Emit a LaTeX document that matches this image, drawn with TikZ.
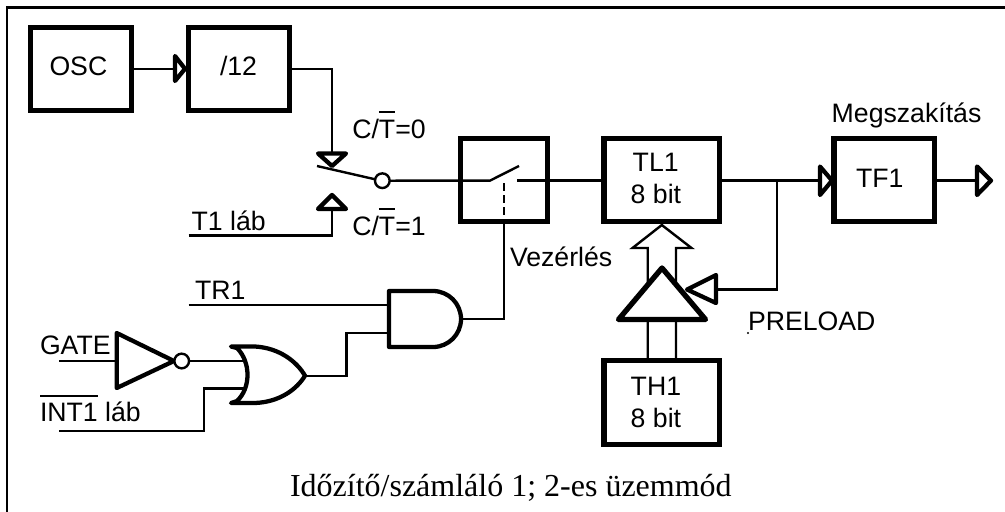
\documentclass[tikz,border=0pt]{standalone}
\usepackage{fontspec}
\setmainfont{Liberation Sans}
\newfontfamily\capfont{Liberation Serif}
\newcommand{\ovbar}[2]{\setbox0\hbox{#2}\rlap{\raisebox{#1}{\rule{\wd0}{1.5pt}}}\box0\relax}
\tikzset{
  wire/.style={line width=1.8pt},
  frameline/.style={line width=2pt},
  blockbox/.style={draw,line width=3.8pt,rectangle,inner sep=0pt,outer sep=0pt,fill=none},
  headtri/.style={draw,line width=3.2pt,line join=round,fill=white},
  gatepath/.style={draw,line width=3.2pt,line join=round,line cap=round},
  label/.style={inner sep=0pt,outer sep=0pt,anchor=base west,font=\fontsize{20}{24}\selectfont},
  caption/.style={inner sep=0pt,outer sep=0pt,anchor=base west,font=\capfont\fontsize{24}{28}\selectfont},
  bubble/.style={draw,line width=1.8pt,circle,inner sep=0pt,outer sep=0pt,minimum size=11pt,fill=white}
}
\begin{document}
\begin{tikzpicture}[x=.75pt,y=-.75pt]
\useasboundingbox (0,0) rectangle (1005,511);
% frame
\coordinate (fb) at (7,511);
\coordinate (fc) at (7,7.8);
\coordinate (fr) at (1005,7.8);
\draw[frameline,line cap=rect] (fb) -- (fc) -- (fr);

% blocks
\node[blockbox,minimum width=75.4pt,minimum height=62.6pt] (osc) at (81.2,68.8) {};
\node[blockbox,minimum width=75.6pt,minimum height=62.6pt] (div) at (239,68.8) {};
\node[blockbox,minimum width=65.3pt,minimum height=62.6pt] (sw) at (504,179.8) {};
\node[blockbox,minimum width=86.3pt,minimum height=62.6pt] (tl) at (661.5,179.8) {};
\node[blockbox,minimum width=75.3pt,minimum height=62.6pt] (tf) at (884.2,179.8) {};
\node[blockbox,minimum width=86.3pt,minimum height=62.6pt] (th) at (661.5,402.3) {};

% coordinates
\coordinate (a1) at (175,68.8);
\coordinate (a2) at (332,68.8);
\coordinate (a3) at (332,152);
\coordinate (t1s) at (188.5,235.5);
\coordinate (t1c) at (332,235.5);
\coordinate (t1e) at (332,210);
\coordinate (armA) at (317,166);
\coordinate (armB) at (376,179.5);
\coordinate (swA) at (490,180.6);
\coordinate (swB) at (519,166);
\coordinate (swC) at (517,180.6);
\coordinate (tfin) at (820,180.6);
\coordinate (jn) at (776.7,180.6);
\coordinate (jn2) at (776.7,289.5);
\coordinate (pre) at (716,289.5);
\coordinate (out) at (977,180.6);
\coordinate (dashT) at (504,183);
\coordinate (dashB) at (504,224);
\coordinate (ctlB) at (504,319);
\coordinate (andout) at (461,319);
\coordinate (tr1s) at (188.5,305);
\coordinate (tr1e) at (389,305);
\coordinate (and2) at (389,332.7);
\coordinate (and2c) at (346.5,332.7);
\coordinate (orc) at (346.5,375.7);
\coordinate (orout) at (305,375.7);
\coordinate (gs) at (59,361);
\coordinate (gi) at (117,361);
\coordinate (oro1) at (246,361);
\coordinate (ints) at (59,430.7);
\coordinate (intc) at (203.7,430.7);
\coordinate (intd) at (203.7,388.3);
\coordinate (oro2) at (246,388.3);
\coordinate (busL) at (647.7,360);
\coordinate (busR) at (676,360);
\coordinate (busLt) at (647.7,248);
\coordinate (busRt) at (676,248);
\coordinate (wingL) at (632.5,248);
\coordinate (wingR) at (691.5,248);
\coordinate (apex) at (661.8,225);

% wires
\node[bubble] (swpivot) at (382.3,180.7) {};
\draw[wire] (osc.east |- a1) -- (a1);
\draw[wire] (div.east |- a2) -- (a2) -- (a3);
\draw[wire] (t1s) -- (t1c) -- (t1e);
\draw[wire] (armA) -- (armB);
\draw[wire] (swpivot.east) -- (swA) -- (swB);
\draw[wire] (swC) -- (tl.west |- swC);
\draw[wire] (tl.east |- tfin) -- (tfin);
\draw[wire] (jn) -- (jn2) -- (pre);
\draw[wire] (tf.east |- out) -- (out);
\draw[wire,dash pattern=on 6pt off 3pt] (dashT) -- (dashB);
\draw[wire] (dashB) -- (ctlB) -- (andout);
\draw[wire] (tr1s) -- (tr1e);
\draw[wire] (orout) -- (orc) -- (and2c) -- (and2);
\draw[wire] (gs) -- (gi);
\draw[wire] (ints) -- (intc) -- (intd) -- (oro2);

% bus between TH1 and the preload buffer, hollow arrow into TL1
\draw[wire,line join=miter] (busL) -- (busLt) -- (wingL) -- (apex) -- (wingR) -- (busRt) -- (busR);

% small triangles
\draw[headtri] (175,56) -- (175,81) -- (185,68.8) -- cycle;
\draw[headtri] (318,153.5) -- (346,153.5) -- (332,166) -- cycle;
\draw[headtri] (318,209) -- (346,209) -- (332,195) -- cycle;
\draw[headtri] (820,166.5) -- (820,195) -- (832,180.6) -- cycle;
\draw[headtri] (977,166.5) -- (977,195) -- (991,180.6) -- cycle;
% buffer
\draw[line width=4pt,line join=round,fill=white] (618.5,319.5) -- (705.5,319.5) -- (662,268) -- cycle;
\draw[wire] (busL) -- (647.7,322);
\draw[wire] (busR) -- (676,322);
\draw[headtri] (716,275) -- (716,303) -- (687,289.5) -- cycle;

% gates
\draw[gatepath] (433,291) -- (389,291) -- (389,347) -- (433,347) arc[start angle=-90,end angle=90,radius=21pt];
\draw[wire] (andout) -- (ctlB);
\draw[gatepath,fill=white] (231,346.5) -- (255,346.5) .. controls (280,348) and (297,362) .. (305,375.7) .. controls (297,389) and (280,402) .. (255,403) -- (231,403) -- (237,401) .. controls (251,388) and (251,362) .. (237,348) -- cycle;
\draw[gatepath,fill=white] (116.7,333) -- (116.7,388) -- (174,361) -- cycle;
\node[bubble] (invb) at (181.7,361) {};
\draw[wire] (invb.east) -- (oro1);
\draw[wire] (intd) -- (oro2);

% texts
\node[label] (tosc) at (49.5,75) {OSC};
\node[label] (tdiv) at (220,75) {/12};
\node[label] (tc0) at (352.3,138) {C/\ovbar{18.5pt}{T}=0};
\node[label] (tc1) at (352.3,235) {C/\ovbar{18.5pt}{T}=1};
\node[label] (tt1) at (191.7,230) {T1 láb};
\node[label] (ttr) at (195,299) {TR1};
\node[label] (tgate) at (40,354) {GATE};
\node[label] (tint) at (40,421.7) {\ovbar{18.9pt}{INT1} láb};
\node[label] (tvez) at (510,266.7) {Vezérlés};
\node[label] (ttl) at (632.7,171.7) {TL1};
\node[label] (ttlb) at (630.7,203) {8 bit};
\node[label] (ttf) at (856,187) {TF1};
\node[label] (tmeg) at (831.7,122.7) {Megszakítás};
\node[label] (tpre) at (748,330.7) {PRELOAD};
\node[label] (tth) at (630.7,395.7) {TH1};
\node[label] (tthb) at (630.7,427.7) {8 bit};
\node[caption] (tcap) at (290,496) {Időzítő/számláló 1; 2-es üzemmód};
\fill (748,333) circle[radius=0.8pt];
\end{tikzpicture}
\end{document}
